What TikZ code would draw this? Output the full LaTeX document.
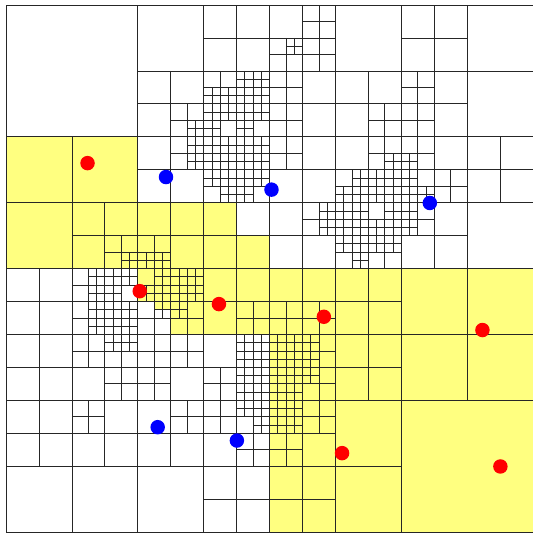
\documentclass[tikz,border=0pt]{standalone}
\usepackage{tikz}
\definecolor{CellYellow}{RGB}{255,255,128}
\begin{document}
\begin{tikzpicture}[x=0.25cm, y=-0.25cm,
    cell/.style={draw=black!85, line width=0.6pt},
    inside/.style={fill=CellYellow},
    outside/.style={fill=white},
    redpt/.style={fill=red},
    bluept/.style={fill=blue}
  ]
  \useasboundingbox (-0.73,-0.61) rectangle (64,64);
  % yellow leaves
  \foreach \u/\v/\s in {0/16/8, 8/16/8, 0/24/8, 8/24/8, 16/24/8, 24/24/4, 24/28/4, 28/28/4,
      24/32/8, 16/32/8, 32/32/32}
    \fill[inside] (\u,\v) rectangle ++(\s,\s);
  \fill[outside] (16,36) rectangle ++(2,2) (18,37) rectangle ++(2,1) (16,38) rectangle ++(4,2);
  % quadtree splits
  \foreach \u/\v/\s in {0/0/64, 0/0/32, 32/0/32, 0/32/32, 32/32/32,
      16/0/16, 32/0/16, 48/0/16, 0/16/16, 16/16/16, 32/16/16, 48/16/16,
      0/32/16, 16/32/16, 32/32/16, 48/32/16, 0/48/16, 16/48/16, 32/48/16}
    \draw[cell] (\u,\v+\s/2) -- ++(\s,0) (\u+\s/2,\v) -- ++(0,\s);
  \foreach \u/\v in {24/0, 32/0, 48/0, 16/8, 24/8, 32/8, 40/8, 48/8,
      16/16, 24/16, 32/16, 40/16, 48/16, 56/16, 8/24, 16/24, 24/24, 32/24, 40/24, 48/24,
      0/32, 8/32, 16/32, 24/32, 32/32, 40/32, 0/40, 8/40, 16/40, 24/40, 32/40, 40/40,
      0/48, 8/48, 16/48, 24/48, 32/48, 24/56, 32/56}
    \draw[cell] (\u,\v+4) -- ++(8,0) (\u+4,\v) -- ++(0,8);
  \foreach \u/\v in {36/0, 32/4, 36/4, 20/12, 24/8, 28/8, 24/12, 28/12, 32/8, 32/12, 44/12, 48/8, 48/12,
      20/16, 24/16, 28/16, 24/20, 28/20, 32/16, 44/16, 40/20, 44/20, 48/16, 48/20, 52/20,
      12/28, 16/28, 36/24, 40/24, 44/24, 40/28, 44/28, 48/24,
      8/32, 12/32, 16/32, 20/32, 8/36, 12/36, 16/36, 20/36, 28/36, 32/36, 36/36,
      8/40, 12/40, 12/44, 16/40, 16/44, 20/40, 28/40, 32/40, 36/40, 28/44, 32/44, 36/44,
      8/48, 20/48, 24/44, 24/48, 28/48, 28/52, 32/48, 36/48, 32/52}
    \draw[cell] (\u,\v+2) -- ++(4,0) (\u+2,\v) -- ++(0,4);
  \foreach \u/\v in {34/4,
      22/14, 24/10, 26/10, 28/8, 30/8, 28/10, 30/10, 24/12, 26/12, 24/14, 28/12, 30/12, 28/14,
      22/16, 22/18, 24/16, 26/16, 24/18, 26/18, 28/16, 30/16, 28/18, 30/18,
      24/20, 26/20, 26/22, 28/20, 30/20, 28/22,
      46/18, 42/20, 40/22, 42/22, 44/20, 46/20, 44/22, 46/22, 48/18, 48/20, 48/22, 50/22,
      14/30, 16/30, 18/30,
      38/24, 38/26, 40/24, 42/24, 40/26, 42/26, 46/24, 44/26, 46/26,
      40/28, 42/28, 42/30, 44/28, 46/28, 48/24, 48/26,
      10/32, 12/32, 14/32, 10/34, 12/34, 10/36, 12/36, 14/36, 10/38, 12/38, 14/38,
      18/32, 16/34, 18/34, 20/32, 22/32, 20/34, 22/34, 18/36, 20/36, 12/40, 14/40,
      28/40, 30/40, 32/40, 34/40, 36/40, 28/42, 30/42, 32/42, 34/42, 36/42,
      28/44, 30/44, 32/44, 34/44, 36/44,
      28/46, 30/46, 32/46, 34/46, 28/48, 30/48, 32/48, 34/48, 30/50, 32/50, 34/50}
    \draw[cell] (\u,\v+1) -- ++(2,0) (\u+1,\v) -- ++(0,2);
  \draw[cell] (0,0) rectangle (64,64);
  % points
  \foreach \u/\v in {9.9/19.2, 16.24/34.75, 25.86/36.32, 38.6/37.86, 57.86/39.47, 40.81/54.42, 60.04/56.04}
    \fill[redpt] (\u,\v) circle (0.88);
  \foreach \u/\v in {19.43/20.89, 32.24/22.42, 51.47/24.04, 18.42/51.27, 28.04/52.89}
    \fill[bluept] (\u,\v) circle (0.88);
\end{tikzpicture}
\end{document}
